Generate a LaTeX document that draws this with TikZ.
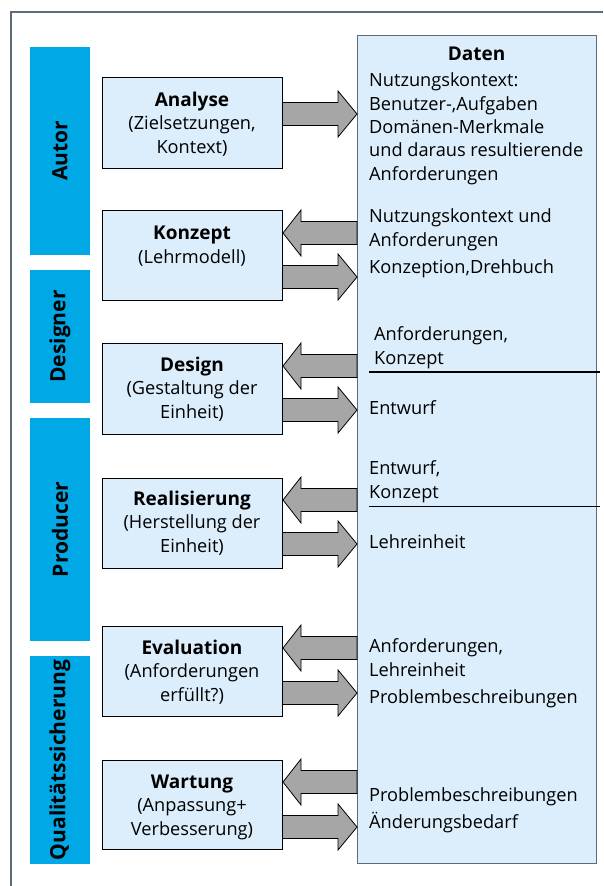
\documentclass[tikz,border=0pt]{standalone}
\usepackage{fontspec}
\setmainfont{Open Sans}
\definecolor{rolecol}{HTML}{00A9E6}
\definecolor{boxfill}{HTML}{DCEEFB}
\definecolor{arrfill}{HTML}{A6A6A6}
\definecolor{framecol}{HTML}{5F6B78}
\newcommand{\ttl}[1]{{\fontsize{19}{23.5}\selectfont\bfseries #1}}
\tikzset{
  rolebar/.style={fill=rolecol, draw=none},
  roletext/.style={rotate=90, font=\fontsize{21}{24}\selectfont\bfseries, inner sep=0pt},
  procbox/.style={fill=boxfill, draw=black, line width=1pt},
  proctext/.style={align=center, anchor=base, inner sep=0pt, font=\fontsize{18.2}{23.5}\selectfont},
  datatext/.style={align=left, anchor=base west, inner sep=0pt, font=\fontsize{18.2}{23.3}\selectfont},
  blockarrow/.style={fill=arrfill, draw=black, line width=0.8pt, line join=miter},
}
\newcommand{\rarr}[1]{\path[blockarrow] (282,#1-11.5) -- (338,#1-11.5) -- (338,#1-23) -- (357,#1) -- (338,#1+23) -- (338,#1+11.5) -- (282,#1+11.5) -- cycle;}
\newcommand{\larr}[1]{\path[blockarrow] (357,#1-11.5) -- (301,#1-11.5) -- (301,#1-23) -- (283,#1) -- (301,#1+23) -- (301,#1+11.5) -- (357,#1+11.5) -- cycle;}
\begin{document}
\begin{tikzpicture}[x=1pt,y=-1pt]
\useasboundingbox (0,0) rectangle (603,886);
% outer frame
\draw[framecol, line width=1.2pt] (11,886) -- (11,12) -- (603,12);
% Daten box
\path[fill=boxfill, draw=framecol, line width=1pt] (357,35) rectangle (596,863);
% role bars
\path[rolebar] (30,47) rectangle (90,255);
\path[rolebar] (30,270) rectangle (90,403);
\path[rolebar] (30,418) rectangle (90,641);
\path[rolebar] (30,656) rectangle (90,864);
\node[roletext] (autor) at (60,151) {Autor};
\node[roletext] (designer) at (60,336.5) {Designer};
\node[roletext] (producer) at (60,529.5) {Producer};
\node[roletext] (qs) at (60,760) {Qualitätssicherung};
% arrows
\rarr{114}
\larr{233}\rarr{277}
\larr{366}\rarr{410}
\larr{500}\rarr{544}
\larr{648}\rarr{693}
\larr{782}\rarr{827}
% process boxes
\path[procbox] (102,77) rectangle (282,168);
\path[procbox] (102,210) rectangle (282,300);
\path[procbox] (102,343) rectangle (282,434);
\path[procbox] (102,478) rectangle (282,568);
\path[procbox] (102,626) rectangle (282,716);
\path[procbox] (102,760) rectangle (282,849);
\node[proctext] (analyse) at (192,153) {\ttl{Analyse}\\(Zielsetzungen,\\Kontext)};
\node[proctext] (konzept) at (192,263) {\ttl{Konzept}\\(Lehrmodell)};
\node[proctext] (design) at (192,418) {\ttl{Design}\\(Gestaltung der\\Einheit)};
\node[proctext] (real) at (192,552) {\ttl{Realisierung}\\(Herstellung der\\Einheit)};
\node[proctext] (eval) at (192,701) {\ttl{Evaluation}\\(Anforderungen\\erfüllt?)};
\node[proctext] (wart) at (192,835) {\ttl{Wartung}\\(Anpassung+\\Verbesserung)};
% Daten texts
\node[proctext] (dtitle) at (476.5,60) {\ttl{Daten}};
\node[datatext] (d1) at (369,180) {Nutzungskontext:\\Benutzer-,Aufgaben\\Domänen-Merkmale\\und daraus resultierende\\Anforderungen};
\node[datatext] (d2) at (369,246) {Nutzungskontext und\\Anforderungen};
\node[datatext] (d3) at (369,273) {Konzeption,Drehbuch};
\node[datatext] (d4) at (374,364) {Anforderungen,\\Konzept};
\draw[black, line width=1.6pt] (369,372) -- (600,372);
\node[datatext] (d5) at (369,414) {Entwurf};
\node[datatext] (d6) at (369,498) {Entwurf,\\Konzept};
\draw[black, line width=1pt] (369,506) -- (600,506);
\node[datatext] (d7) at (369,548) {Lehreinheit};
\node[datatext] (d8) at (369,676) {Anforderungen,\\Lehreinheit};
\node[datatext] (d9) at (369,703) {Problembeschreibungen};
\node[datatext, font=\fontsize{18.2}{26.5}\selectfont] (d10) at (369,828) {Problembeschreibungen\\Änderungsbedarf};
\end{tikzpicture}
\end{document}
